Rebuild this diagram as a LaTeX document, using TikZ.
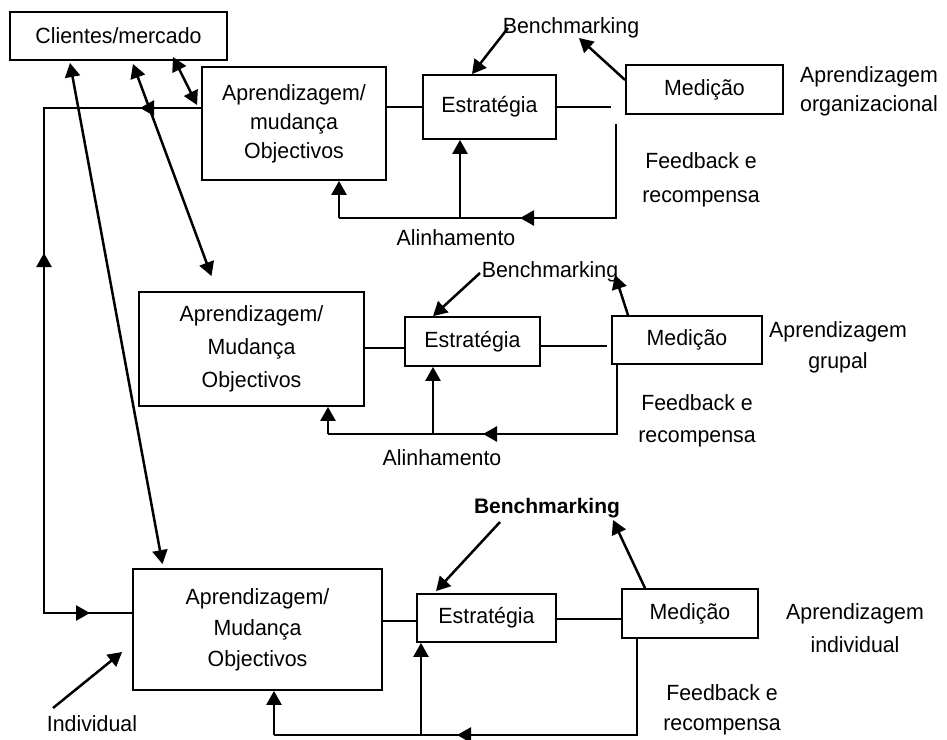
\documentclass[tikz,border=0pt]{standalone}
\usepackage{fontspec}
\setmainfont{Liberation Sans}[FakeStretch=0.97]
\newfontfamily\arialfont{Liberation Sans}
\usetikzlibrary{arrows.meta,calc}
\begin{document}
\begin{tikzpicture}[x=1pt,y=-1pt,
  box/.style={draw,line width=1.8pt,inner sep=0pt,align=center,font=\fontsize{22}{31}\selectfont},
  lbl/.style={inner sep=0pt,align=center,font=\fontsize{22}{31}\selectfont},
  link/.style={line width=1.4pt},
  flow/.style={line width=2.5pt},
  tip/.style={flow,-{Triangle[length=14pt,width=15pt]}},
  both/.style={flow,{Triangle[length=14pt,width=15pt]}-{Triangle[length=14pt,width=15pt]}},
]
\useasboundingbox (0,0) rectangle (947,739);

% ---------- customers / market ----------
\node[box,minimum width=217pt,minimum height=48pt] (cm) at (118.5,36) {Clientes/mercado};

% ---------- organisational level ----------
\node[box,minimum width=184pt,minimum height=113pt,font=\fontsize{22}{29}\selectfont] (a1) at (294,123.5) {Aprendizagem/\\mudança\\Objectivos};
\node[box,minimum width=133pt,minimum height=64pt] (e1) at (489.5,107) {Estratégia};
\node[box,minimum width=157pt,minimum height=49pt] (m1) at (704.5,89.5) {Medição};
\node[lbl] (b1) at (571,28) {Benchmarking};
\node[lbl] (al1) at (456,238) {Alinhamento};
\node[lbl,font=\fontsize{22}{34}\selectfont] (fb1) at (701,180) {Feedback e\\recompensa};
\node[lbl,font=\fontsize{22}{29}\selectfont] (ao1) at (869,91.5) {Aprendizagem\\organizacional};

\draw[link] (e1.west -| a1.east) -- (e1.west);
\coordinate (g1) at ([shift={(-14,0)}]m1.west);
\draw[link] (e1.east) -- (g1 |- e1.east);

\coordinate (k1) at (616,218);
\coordinate (j1) at (339,218);
\coordinate (s1) at (460,218);
\coordinate (h1) at (520,218);
\draw[flow] ([shift={(-88.5,9)}]m1.south) -- (k1) -- (j1);
\draw[tip] (j1) -- (j1 |- a1.south);
\draw[tip] (s1) -- (s1 |- e1.south);
\draw[tip] (k1) -- (h1);

\draw[tip] ([shift={(-63,0)}]b1.center) -- ([shift={(-17.5,0)}]e1.north);
\draw[tip] ([shift={(0,-9.5)}]m1.west) -- ([shift={(8,10)}]b1.center);

% ---------- group level ----------
\node[box,minimum width=225pt,minimum height=114pt,font=\fontsize{22}{33}\selectfont] (a2) at (251.5,349) {Aprendizagem/\\Mudança\\Objectivos};
\node[box,minimum width=135pt,minimum height=49pt] (e2) at (472.5,341.5) {Estratégia};
\node[box,minimum width=150pt,minimum height=48pt] (m2) at (687,340) {Medição};
\node[lbl] (b2) at (550,272) {Benchmarking};
\node[lbl] (al2) at (442,458) {Alinhamento};
\node[lbl,font=\fontsize{22}{32}\selectfont] (fb2) at (697,421) {Feedback e\\recompensa};
\node[lbl] (ag2) at (838,347) {Aprendizagem\\grupal};

\draw[link] ([shift={(0,-1)}]a2.east) -- ([shift={(0,6.5)}]e2.west);
\draw[link] ([shift={(0,4.5)}]e2.east) -- ([shift={(-4,6)}]m2.west);

\coordinate (k2) at (617,434);
\coordinate (j2) at (328,434);
\coordinate (s2) at (433,434);
\coordinate (h2) at (483,434);
\draw[flow] ([shift={(-70,0)}]m2.south) -- (k2) -- (j2);
\draw[tip] (j2) -- (j2 |- a2.south);
\draw[tip] (s2) -- (s2 |- e2.south);
\draw[tip] (k2) -- (h2);

\draw[tip] ([shift={(-70,1)}]b2.center) -- ([shift={(-39.5,0)}]e2.north);
\draw[tip] ([shift={(-59,0)}]m2.north) -- ([shift={(65,3)}]b2.center);

% ---------- individual level ----------
\node[box,minimum width=249pt,minimum height=121pt] (a3) at (257.5,629.5) {Aprendizagem/\\Mudança\\Objectivos};
\node[box,minimum width=139pt,minimum height=48pt] (e3) at (486.5,618) {Estratégia};
\node[box,minimum width=136pt,minimum height=49pt] (m3) at (690,613.5) {Medição};
\node[lbl,font=\arialfont\bfseries\fontsize{21}{25}\selectfont] (b3) at (547,508) {Benchmarking};
\node[lbl,font=\fontsize{22}{30}\selectfont] (fb3) at (722,710) {Feedback e\\recompensa};
\node[lbl,font=\fontsize{22}{33}\selectfont] (ai3) at (855,628.5) {Aprendizagem\\individual};
\node[lbl] (ind) at (92,724) {Individual};

\draw[link] ([shift={(0,-8.5)}]a3.east) -- ([shift={(0,3)}]e3.west);
\draw[link] ([shift={(0,1)}]e3.east) -- ([shift={(0,5.5)}]m3.west);

\coordinate (k3) at (637,735);
\coordinate (j3) at (274,735);
\coordinate (s3) at (421,735);
\coordinate (h3) at (457,735);
\draw[flow] ([shift={(-53,0)}]m3.south) -- (k3) -- (j3);
\draw[tip] (j3) -- (j3 |- a3.south);
\draw[tip] (s3) -- (s3 |- e3.south);
\draw[tip] (k3) -- (h3);

\draw[tip] ([shift={(-47,14)}]b3.center) -- ([shift={(-50.5,-2)}]e3.north);
\draw[tip] ([shift={(-45,0)}]m3.north) -- ([shift={(66,12)}]b3.center);
\draw[tip] ([shift={(-39,-16)}]ind.center) -- ([shift={(-10,22.5)}]a3.west);

% ---------- links to customers / market ----------
\draw[both] ([shift={(54.5,21)}]cm.center) -- ([shift={(-4,-18.5)}]a1.west);
\draw[both] ([shift={(14.5,28)}]cm.center) -- ([shift={(-40,-15)}]a2.north);
\draw[both] ([shift={(-48.5,27)}]cm.center) -- ([shift={(-95,-4)}]a3.north);

\coordinate (l1) at (44,108);
\coordinate (l2) at (44,613);
\coordinate (lm1) at (140,108);
\coordinate (lm2) at (44,253);
\coordinate (lm3) at (90,613);
\draw[flow] ([shift={(0,-15.5)}]a1.west) -- (l1) -- (l2) -- ([shift={(0,-16.5)}]a3.west);
\draw[tip] ([shift={(0,-15.5)}]a1.west) -- (lm1);
\draw[tip] (l2) -- (lm2);
\draw[tip] (l2) -- (lm3);
\end{tikzpicture}
\end{document}
